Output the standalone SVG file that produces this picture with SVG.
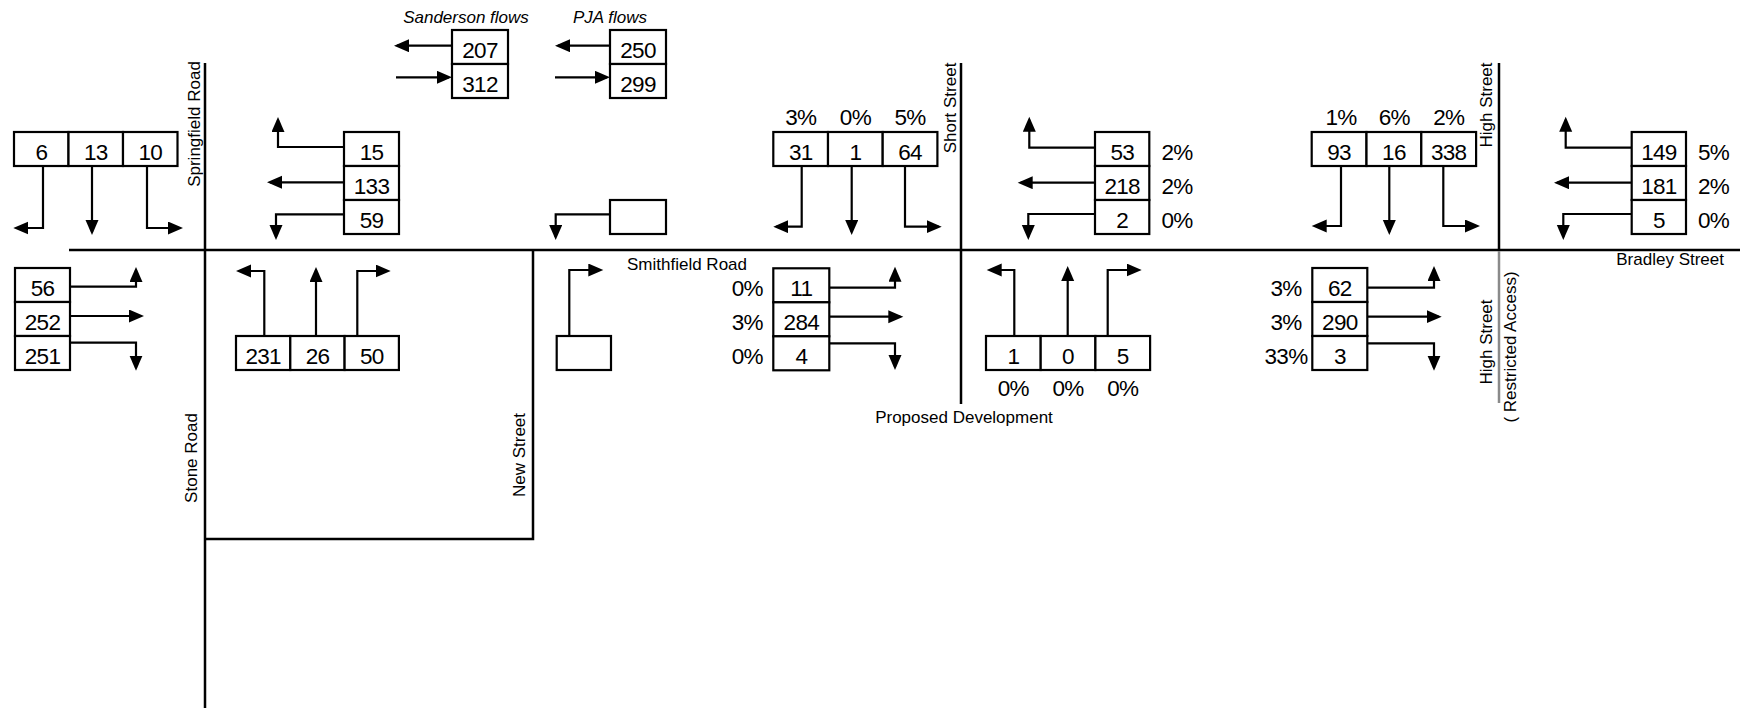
<svg xmlns="http://www.w3.org/2000/svg" width="1740" height="708" viewBox="0 0 1740 708">
<style>
.bg{fill:#fff}
.box{fill:#fff;stroke:#000;stroke-width:2.2}
.num{font-family:"Liberation Sans",Arial,sans-serif;font-size:22.5px;letter-spacing:-0.7px;text-anchor:middle;fill:#000}
.lbl{font-family:"Liberation Sans",Arial,sans-serif;font-size:17px;fill:#000}
.it{font-style:italic;text-anchor:middle}
.mid{text-anchor:middle}
.road{stroke:#000;stroke-width:2.5;fill:none}
.gray{stroke:#8a8a8a;stroke-width:2.5;fill:none}
.arr{stroke:#000;stroke-width:2.2;fill:none;marker-end:url(#ah)}
</style>
<defs>
<marker id="ah" markerUnits="userSpaceOnUse" markerWidth="16" markerHeight="14" refX="12" refY="6.5" orient="auto">
<path d="M0,0 L15,6.5 L0,13 z" fill="#000"/>
</marker>
</defs>
<rect class="bg" x="0" y="0" width="1740" height="708"/>

<g id="roads">
<path class="road" d="M69,250 H1740"/>
<path class="road" d="M205,63 V708"/>
<path class="road" d="M533,250 V539 H205"/>
<path class="road" d="M961,63 V404"/>
<path class="road" d="M1499,63 V250"/>
<path class="gray" d="M1499,251 V403"/>
</g>

<g id="road-labels" class="lbl">
<text class="mid" transform="translate(200,124) rotate(-90)">Springfield Road</text>
<text class="mid" transform="translate(197,458) rotate(-90)">Stone Road</text>
<text class="mid" transform="translate(525,455) rotate(-90)">New Street</text>
<text class="mid" transform="translate(956,108) rotate(-90)">Short Street</text>
<text class="mid" transform="translate(1492,105) rotate(-90)">High Street</text>
<text class="mid" transform="translate(1492,342) rotate(-90)">High Street</text>
<text class="mid" transform="translate(1516,347) rotate(-90)">( Restricted Access)</text>
<text x="627" y="270">Smithfield Road</text>
<text x="1724" y="265" text-anchor="end">Bradley Street</text>
<text class="mid" x="964" y="423">Proposed Development</text>
<text class="it" x="466" y="23">Sanderson flows</text>
<text class="it" x="610" y="23">PJA flows</text>
</g>

<g id="node-a">
<rect class="box" x="14" y="132" width="54.5" height="34"/>
<rect class="box" x="68.5" y="132" width="54.5" height="34"/>
<rect class="box" x="123" y="132" width="54.5" height="34"/>
<text class="num" x="41.3" y="160">6</text>
<text class="num" x="95.8" y="160">13</text>
<text class="num" x="150.3" y="160">10</text>
</g>

<g id="node-sanderson">
<rect class="box" x="452" y="30" width="56" height="34"/>
<rect class="box" x="452" y="64" width="56" height="34"/>
<text class="num" x="480" y="58">207</text>
<text class="num" x="480" y="92">312</text>
</g>

<g id="node-pja">
<rect class="box" x="610" y="30" width="56" height="34"/>
<rect class="box" x="610" y="64" width="56" height="34"/>
<text class="num" x="638" y="58">250</text>
<text class="num" x="638" y="92">299</text>
</g>

<g id="node-d">
<rect class="box" x="344" y="132" width="55" height="34"/>
<rect class="box" x="344" y="166" width="55" height="34"/>
<rect class="box" x="344" y="200" width="55" height="34"/>
<text class="num" x="371.5" y="160">15</text>
<text class="num" x="371.5" y="194">133</text>
<text class="num" x="371.5" y="228">59</text>
</g>

<g id="node-e">
<rect class="box" x="15" y="268" width="55" height="34"/>
<rect class="box" x="15" y="302" width="55" height="34"/>
<rect class="box" x="15" y="336" width="55" height="34"/>
<text class="num" x="42.5" y="296">56</text>
<text class="num" x="42.5" y="330">252</text>
<text class="num" x="42.5" y="364">251</text>
</g>

<g id="node-f">
<rect class="box" x="236" y="336" width="54.3" height="34"/>
<rect class="box" x="290.3" y="336" width="54.3" height="34"/>
<rect class="box" x="344.6" y="336" width="54.3" height="34"/>
<text class="num" x="263.2" y="364">231</text>
<text class="num" x="317.5" y="364">26</text>
<text class="num" x="371.8" y="364">50</text>
</g>

<g id="node-g">
<rect class="box" x="610" y="200" width="56" height="34"/>
</g>

<g id="node-h">
<rect class="box" x="556.7" y="336" width="54.3" height="34"/>
</g>

<g id="node-i">
<rect class="box" x="773.3" y="132" width="54.7" height="34"/>
<rect class="box" x="828" y="132" width="54.7" height="34"/>
<rect class="box" x="882.7" y="132" width="54.7" height="34"/>
<text class="num" x="800.7" y="160">31</text>
<text class="num" x="855.4" y="160">1</text>
<text class="num" x="910" y="160">64</text>
<text class="num" x="800.7" y="125">3%</text>
<text class="num" x="855.4" y="125">0%</text>
<text class="num" x="910" y="125">5%</text>
</g>

<g id="node-j">
<rect class="box" x="1095" y="132" width="54.3" height="34"/>
<rect class="box" x="1095" y="166" width="54.3" height="34"/>
<rect class="box" x="1095" y="200" width="54.3" height="34"/>
<text class="num" x="1122.2" y="160">53</text>
<text class="num" x="1122.2" y="194">218</text>
<text class="num" x="1122.2" y="228">2</text>
<text class="num" x="1177" y="159.5">2%</text>
<text class="num" x="1177" y="193.5">2%</text>
<text class="num" x="1177" y="227.5">0%</text>
</g>

<g id="node-k">
<rect class="box" x="773.3" y="268.3" width="56" height="34"/>
<rect class="box" x="773.3" y="302.3" width="56" height="34"/>
<rect class="box" x="773.3" y="336.3" width="56" height="34"/>
<text class="num" x="801.3" y="296">11</text>
<text class="num" x="801.3" y="330">284</text>
<text class="num" x="801.3" y="364">4</text>
<text class="num" x="747.3" y="295.5">0%</text>
<text class="num" x="747.3" y="329.5">3%</text>
<text class="num" x="747.3" y="363.5">0%</text>
</g>

<g id="node-l">
<rect class="box" x="986" y="336" width="54.7" height="34"/>
<rect class="box" x="1040.7" y="336" width="54.7" height="34"/>
<rect class="box" x="1095.4" y="336" width="54.7" height="34"/>
<text class="num" x="1013.3" y="364">1</text>
<text class="num" x="1068" y="364">0</text>
<text class="num" x="1122.7" y="364">5</text>
<text class="num" x="1013.3" y="395.5">0%</text>
<text class="num" x="1068" y="395.5">0%</text>
<text class="num" x="1122.7" y="395.5">0%</text>
</g>

<g id="node-m">
<rect class="box" x="1311.7" y="132" width="54.8" height="34"/>
<rect class="box" x="1366.5" y="132" width="54.8" height="34"/>
<rect class="box" x="1421.3" y="132" width="54.8" height="34"/>
<text class="num" x="1339.1" y="160">93</text>
<text class="num" x="1393.9" y="160">16</text>
<text class="num" x="1448.7" y="160">338</text>
<text class="num" x="1341" y="125">1%</text>
<text class="num" x="1394.3" y="125">6%</text>
<text class="num" x="1448.7" y="125">2%</text>
</g>

<g id="node-n">
<rect class="box" x="1312.3" y="268" width="55" height="34"/>
<rect class="box" x="1312.3" y="302" width="55" height="34"/>
<rect class="box" x="1312.3" y="336" width="55" height="34"/>
<text class="num" x="1339.8" y="296">62</text>
<text class="num" x="1339.8" y="330">290</text>
<text class="num" x="1339.8" y="364">3</text>
<text class="num" x="1286" y="295.5">3%</text>
<text class="num" x="1286" y="329.5">3%</text>
<text class="num" x="1286" y="363.5">33%</text>
</g>

<g id="node-o">
<rect class="box" x="1631.7" y="132" width="54.3" height="34"/>
<rect class="box" x="1631.7" y="166" width="54.3" height="34"/>
<rect class="box" x="1631.7" y="200" width="54.3" height="34"/>
<text class="num" x="1658.9" y="160">149</text>
<text class="num" x="1658.9" y="194">181</text>
<text class="num" x="1658.9" y="228">5</text>
<text class="num" x="1713.5" y="159.5">5%</text>
<text class="num" x="1713.5" y="193.5">2%</text>
<text class="num" x="1713.5" y="227.5">0%</text>
</g>

<g id="connectors">
<path class="arr" d="M43,166 V228 H16.3"/>
<path class="arr" d="M92,166 V232"/>
<path class="arr" d="M147,166 V228 H180"/>

<path class="arr" d="M452,45.7 H397"/>
<path class="arr" d="M396,77.3 H449"/>
<path class="arr" d="M610,45.7 H558"/>
<path class="arr" d="M555,77.3 H607"/>

<path class="arr" d="M344,147 H278 V120"/>
<path class="arr" d="M344,182.3 H270"/>
<path class="arr" d="M344,214.3 H276 V237"/>

<path class="arr" d="M70,286.7 H136 V270"/>
<path class="arr" d="M70,316 H141"/>
<path class="arr" d="M70,342.7 H136 V367.7"/>

<path class="arr" d="M264.3,336 V271 H239"/>
<path class="arr" d="M316,336 V270"/>
<path class="arr" d="M357.3,336 V271 H387.7"/>

<path class="arr" d="M610,214.3 H555.7 V237"/>
<path class="arr" d="M569.3,336 V270 H600.3"/>

<path class="arr" d="M801.7,166 V226.7 H776.3"/>
<path class="arr" d="M851.7,166 V232"/>
<path class="arr" d="M905,166 V226.7 H938.7"/>

<path class="arr" d="M1095,147.7 H1029.3 V119.7"/>
<path class="arr" d="M1095,182.7 H1020.7"/>
<path class="arr" d="M1095,214 H1028.3 V237"/>

<path class="arr" d="M829.3,287.7 H895 V269.7"/>
<path class="arr" d="M829.3,316.7 H900.3"/>
<path class="arr" d="M829.3,343.3 H895 V367"/>

<path class="arr" d="M1014.3,336 V270 H989.7"/>
<path class="arr" d="M1067.7,336 V269"/>
<path class="arr" d="M1107.7,336 V270 H1138.7"/>

<path class="arr" d="M1341,166 V226 H1314.7"/>
<path class="arr" d="M1389.3,166 V232"/>
<path class="arr" d="M1443.3,166 V226 H1477"/>

<path class="arr" d="M1367.3,287.7 H1434 V269"/>
<path class="arr" d="M1367.3,316.7 H1438.7"/>
<path class="arr" d="M1367.3,343.3 H1434 V367.7"/>

<path class="arr" d="M1631.7,147.7 H1565.7 V119.7"/>
<path class="arr" d="M1631.7,182.7 H1557"/>
<path class="arr" d="M1631.7,214 H1563.3 V237"/>
</g>
</svg>
